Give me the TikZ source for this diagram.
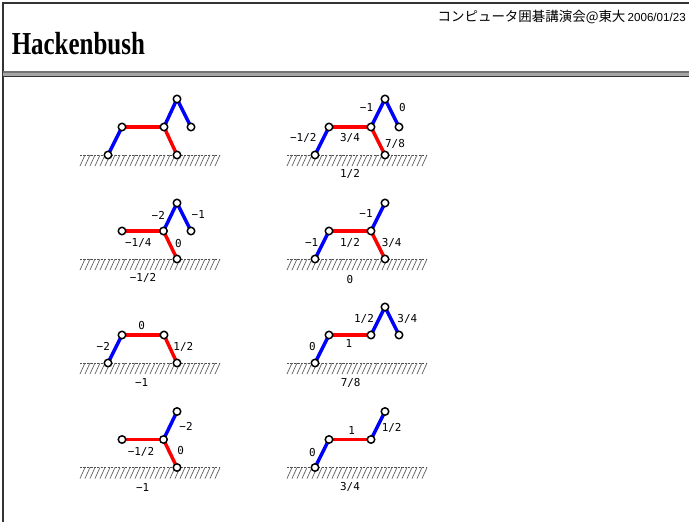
\documentclass[tikz,border=0pt]{standalone}
\usepackage{fontspec}
\setmainfont{Liberation Serif}
\newfontfamily\cjkfont{Noto Sans CJK JP}
\newfontfamily\labelfont{DejaVu Sans Mono}
\newfontfamily\datefont{Liberation Sans}

% ground with a dashed top edge and slanted hatching below it
\newcommand\hackground[3]{%
  \draw[groundtop] (#1,#3) -- (#2,#3);
  \foreach \k in {0,...,27}
    \draw[hatch] ({#1+5*\k+5},#3) -- ({#1+5*\k},{#3+11});
}

\begin{document}
\begin{tikzpicture}[x=0.75pt,y=-0.75pt,
  bl/.style={draw=blue, line width=2.6pt},
  rd/.style={draw=red, line width=2.6pt},
  vtx/.style={circle, draw=black, fill=white, line width=1.1pt, inner sep=0pt, minimum size=5.6pt},
  lbl/.style={font=\labelfont\fontsize{8.2}{9}\selectfont, inner sep=0pt},
  groundtop/.style={draw=black!70, line width=0.5pt, dash pattern=on 1.6pt off 1pt},
  hatch/.style={draw=black!60, line width=0.55pt},
  frameline/.style={draw=black!80, line width=1.5pt}
]
\useasboundingbox (0,0) rectangle (689,522);
\fill[white] (0,0) rectangle (689,522);

% page frame and title rule
\draw[frameline] (2.5,522) -- (2.5,2.5) -- (689,2.5);
\fill[black!35] (2.5,72) rectangle (689,76);
\draw[black!55, line width=0.8pt] (2.5,72) -- (689,72);
\draw[black!80, line width=0.9pt] (2.5,76.3) -- (689,76.3);

\node[anchor=base west, inner sep=0pt] (title) at (11.5,54)
  {\scalebox{0.78}[1]{\fontsize{24}{28}\selectfont\bfseries Hackenbush}};
\node[anchor=base east, inner sep=0pt] (header) at (686,21.5)
  {{\cjkfont\fontsize{10.1}{12}\selectfont コンピュータ囲碁講演会@東大}\,\datefont\fontsize{8.7}{10}\selectfont 2006/01/23};

% ---------- row 1 ----------
\hackground{80}{220}{155}
\coordinate (a1) at (108,155); \coordinate (b1) at (122,127);
\coordinate (c1) at (164,127); \coordinate (d1) at (177,99);
\coordinate (e1) at (191,127); \coordinate (f1) at (177,155);
\draw[bl] (a1) -- (b1); \draw[rd] (b1) -- (c1); \draw[rd] (c1) -- (f1);
\draw[bl] (c1) -- (d1); \draw[bl] (d1) -- (e1);
\foreach \v in {a1,b1,c1,d1,e1,f1} \node[vtx] at (\v) {};

\hackground{287}{427}{155}
\coordinate (a2) at (315,155); \coordinate (b2) at (329,127);
\coordinate (c2) at (371,127); \coordinate (d2) at (385,99);
\coordinate (e2) at (399,127); \coordinate (f2) at (385,155);
\draw[bl] (a2) -- (b2); \draw[rd] (b2) -- (c2); \draw[rd] (c2) -- (f2);
\draw[bl] (c2) -- (d2); \draw[bl] (d2) -- (e2);
\foreach \v in {a2,b2,c2,d2,e2,f2} \node[vtx] at (\v) {};
\node[lbl] (l2a) at (366.5,107.7) {−1};
\node[lbl] (l2b) at (402.3,107.7) {0};
\node[lbl] (l2c) at (303.3,138.3) {−1/2};
\node[lbl] (l2d) at (350,138.3) {3/4};
\node[lbl] (l2e) at (395,144) {7/8};
\node[lbl] (l2f) at (350,174.3) {1/2};

% ---------- row 2 ----------
\hackground{80}{220}{259}
\coordinate (b3) at (122,231); \coordinate (c3) at (163.5,231);
\coordinate (d3) at (177,203); \coordinate (e3) at (191,231);
\coordinate (f3) at (177,259);
\draw[rd] (b3) -- (c3); \draw[rd] (c3) -- (f3);
\draw[bl] (c3) -- (d3); \draw[bl] (d3) -- (e3);
\foreach \v in {b3,c3,d3,e3,f3} \node[vtx] at (\v) {};
\node[lbl] (l3a) at (158.3,215) {−2};
\node[lbl] (l3b) at (198.3,215) {−1};
\node[lbl] (l3c) at (138.3,242.7) {−1/4};
\node[lbl] (l3d) at (178.3,244) {0};
\node[lbl] (l3e) at (143,278) {−1/2};

\hackground{287}{427}{259}
\coordinate (a4) at (315,259); \coordinate (b4) at (329,231);
\coordinate (c4) at (371,231); \coordinate (d4) at (385,203);
\coordinate (f4) at (385,259);
\draw[bl] (a4) -- (b4); \draw[rd] (b4) -- (c4); \draw[rd] (c4) -- (f4);
\draw[bl] (c4) -- (d4);
\foreach \v in {a4,b4,c4,d4,f4} \node[vtx] at (\v) {};
\node[lbl] (l4a) at (366,214) {−1};
\node[lbl] (l4b) at (311.7,242.7) {−1};
\node[lbl] (l4c) at (350,242.7) {1/2};
\node[lbl] (l4d) at (391.7,242.7) {3/4};
\node[lbl] (l4e) at (350,279.3) {0};

% ---------- row 3 ----------
\hackground{80}{220}{363}
\coordinate (a5) at (108,363); \coordinate (b5) at (122,335);
\coordinate (c5) at (164,335); \coordinate (f5) at (177,363);
\draw[bl] (a5) -- (b5); \draw[rd] (b5) -- (c5); \draw[rd] (c5) -- (f5);
\foreach \v in {a5,b5,c5,f5} \node[vtx] at (\v) {};
\node[lbl] (l5a) at (141.7,326) {0};
\node[lbl] (l5b) at (103.3,346.7) {−2};
\node[lbl] (l5c) at (183.3,346.7) {1/2};
\node[lbl] (l5d) at (141.7,382.7) {−1};

\hackground{287}{427}{363}
\coordinate (a6) at (315,363); \coordinate (b6) at (329,335);
\coordinate (c6) at (371,335); \coordinate (d6) at (385,307);
\coordinate (e6) at (399,335);
\draw[bl] (a6) -- (b6); \draw[rd] (b6) -- (c6);
\draw[bl] (c6) -- (d6); \draw[bl] (d6) -- (e6);
\foreach \v in {a6,b6,c6,d6,e6} \node[vtx] at (\v) {};
\node[lbl] (l6a) at (312.3,346.7) {0};
\node[lbl] (l6b) at (349,343.3) {1};
\node[lbl] (l6c) at (364,319) {1/2};
\node[lbl] (l6d) at (407.3,319) {3/4};
\node[lbl] (l6e) at (350.7,382.7) {7/8};

% ---------- row 4 ----------
\hackground{80}{220}{467.5}
\coordinate (b7) at (122,439.5); \coordinate (c7) at (163.5,439.5);
\coordinate (d7) at (177,411.5); \coordinate (f7) at (177,467.5);
\draw[rd] (b7) -- (c7); \draw[rd] (c7) -- (f7); \draw[bl] (c7) -- (d7);
\foreach \v in {b7,c7,d7,f7} \node[vtx] at (\v) {};
\node[lbl] (l7a) at (186,426) {−2};
\node[lbl] (l7b) at (141,451.7) {−1/2};
\node[lbl] (l7c) at (180.7,450.7) {0};
\node[lbl] (l7d) at (142.7,487.3) {−1};

\hackground{287}{427}{467.5}
\coordinate (a8) at (315,467.5); \coordinate (b8) at (329,439.5);
\coordinate (c8) at (371,439.5); \coordinate (d8) at (385,411.5);
\draw[bl] (a8) -- (b8); \draw[rd] (b8) -- (c8); \draw[bl] (c8) -- (d8);
\foreach \v in {a8,b8,c8,d8} \node[vtx] at (\v) {};
\node[lbl] (l8a) at (312.3,452.7) {0};
\node[lbl] (l8b) at (351.7,431) {1};
\node[lbl] (l8c) at (391.7,428.3) {1/2};
\node[lbl] (l8d) at (350,487.3) {3/4};
\end{tikzpicture}
\end{document}
